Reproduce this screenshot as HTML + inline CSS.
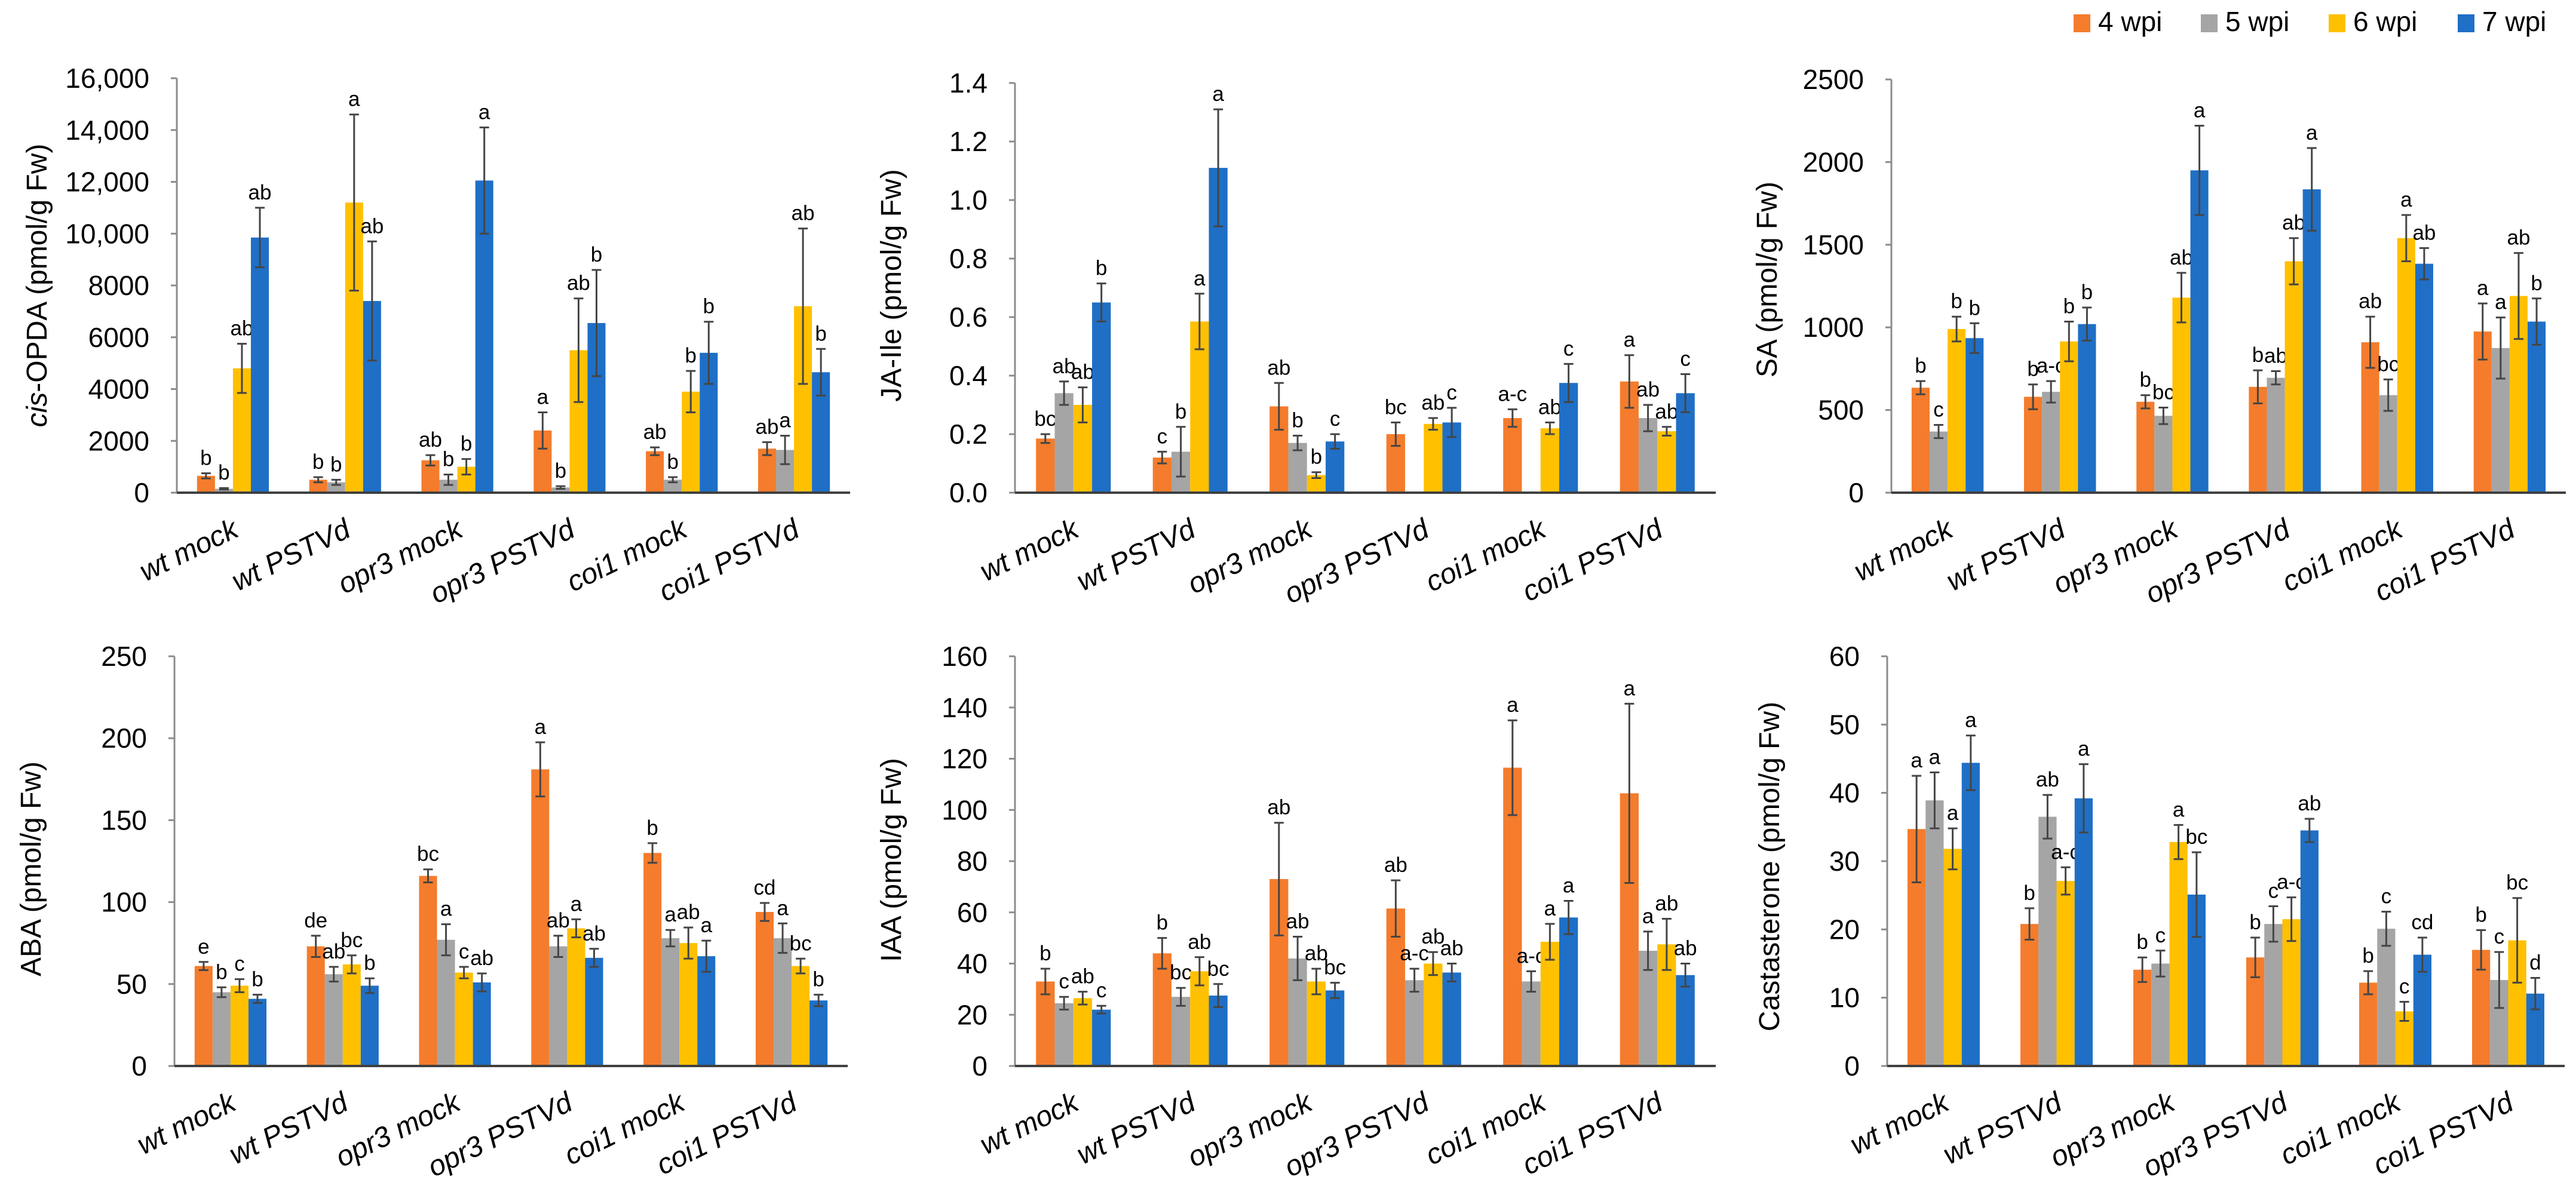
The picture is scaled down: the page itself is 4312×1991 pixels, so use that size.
<!DOCTYPE html>
<html><head><meta charset="utf-8"><style>
html,body{margin:0;padding:0;background:#fff;}
svg{display:block;font-family:"Liberation Sans",sans-serif;}
</style></head><body>
<svg id="fig" width="4312" height="1991" viewBox="0 0 4312 1991" xmlns="http://www.w3.org/2000/svg">
<g>
<rect x="3471" y="24" width="28" height="30" fill="#F47C2C"/>
<text x="3512" y="52" font-size="46">4 wpi</text>
<rect x="3684" y="24" width="28" height="30" fill="#A5A5A5"/>
<text x="3725" y="52" font-size="46">5 wpi</text>
<rect x="3898" y="24" width="28" height="30" fill="#FFC000"/>
<text x="3939" y="52" font-size="46">6 wpi</text>
<rect x="4114" y="24" width="28" height="30" fill="#1F6FC6"/>
<text x="4155" y="52" font-size="46">7 wpi</text>
</g>
</svg>
<script>
const categories = ["wt mock","wt PSTVd","opr3 mock","opr3 PSTVd","coi1 mock","coi1 PSTVd"];
const seriesNames = ["4 wpi","5 wpi","6 wpi","7 wpi"];

const opdaTicks = [0,2000,4000,6000,8000,10000,12000,14000,16000];
const opdaTickLabels = ["0","2000","4000","6000","8000","10,000","12,000","14,000","16,000"];
const opdaVals = [[650,500,1250,2400,1600,1700],[150,400,500,200,500,1650],[4800,11200,1000,5500,3900,7200],[9850,7400,12050,6550,5400,4650]];
const opdaErrs = [[100,100,200,700,150,250],[30,100,200,50,100,550],[950,3400,300,2000,800,3000],[1150,2300,2050,2050,1200,900]];
const opdaLetters = [["b","b","ab","a","ab","ab"],["b","b","b","b","b","a"],["ab","a","b","ab","b","ab"],["ab","ab","a","b","b","b"]];

const jaTicks = [0,0.2,0.4,0.6,0.8,1.0,1.2,1.4];
const jaTickLabels = ["0.0","0.2","0.4","0.6","0.8","1.0","1.2","1.4"];
const jaVals = [[0.185,0.12,0.295,0.20,0.255,0.38],[0.34,0.14,0.17,0,0,0.255],[0.30,0.585,0.06,0.235,0.22,0.21],[0.65,1.11,0.175,0.24,0.375,0.34]];
const jaErrs = [[0.015,0.02,0.08,0.04,0.03,0.09],[0.04,0.085,0.025,0,0,0.045],[0.06,0.095,0.01,0.02,0.02,0.015],[0.065,0.2,0.025,0.05,0.065,0.065]];
const jaLetters = [["bc","c","ab","bc","a-c","a"],["ab","b","b","","","ab"],["ab","a","b","ab","ab","ab"],["b","a","c","c","c","c"]];

const saTicks = [0,500,1000,1500,2000,2500];
const saTickLabels = ["0","500","1000","1500","2000","2500"];
const saVals = [[635,580,550,640,910,975],[370,610,465,695,590,875],[990,915,1180,1400,1540,1190],[935,1020,1950,1835,1385,1035]];
const saErrs = [[40,75,40,100,155,170],[40,65,50,40,95,185],[75,120,150,140,140,260],[90,100,270,250,95,140]];
const saLetters = [["b","b","b","b","ab","a"],["c","a-c","bc","ab","bc","a"],["b","b","ab","ab","a","ab"],["b","b","a","a","ab","b"]];

const abaTicks = [0,50,100,150,200,250];
const abaTickLabels = ["0","50","100","150","200","250"];
const abaVals = [[61,73,116,181,130,94],[45,56,77,73,78,78],[49,62,57,84,75,61],[41,49,51,66,67,40]];
const abaErrs = [[2.5,6.5,4,16.5,6,5.5],[3,4.5,9.5,6.5,5,9],[4,5.5,3.5,5.5,9.5,4.5],[2.5,4.5,5.5,5.5,9.5,3.5]];
const abaLetters = [["e","de","bc","a","b","cd"],["b","ab","a","ab","a","a"],["c","bc","c","a","ab","bc"],["b","b","ab","ab","a","b"]];

const iaaTicks = [0,20,40,60,80,100,120,140,160];
const iaaTickLabels = ["0","20","40","60","80","100","120","140","160"];
const iaaVals = [[33,44,73,61.5,116.5,106.5],[24.5,27,42,33.5,33,45],[26.5,37,33,40,48.5,47.5],[22,27.5,29.5,36.5,58,35.5]];
const iaaErrs = [[5,6,22,11,18.5,35],[2.5,3.5,8.5,4.5,4,7.5],[2.5,5.5,5,4.5,7,10],[1.5,4.5,3,3.5,6.5,4.5]];
const iaaLetters = [["b","b","ab","ab","a","a"],["c","bc","ab","a-c","a-c","a"],["ab","ab","ab","ab","a","ab"],["c","bc","bc","ab","a","ab"]];

const castTicks = [0,10,20,30,40,50,60];
const castTickLabels = ["0","10","20","30","40","50","60"];
const castVals = [[34.7,20.8,14.1,15.9,12.2,17],[38.9,36.5,15,20.8,20.1,12.6],[31.8,27.1,32.8,21.5,8,18.4],[44.4,39.2,25.1,34.5,16.3,10.6]];
const castErrs = [[7.8,2.3,1.8,2.9,1.7,2.9],[4.1,3.2,1.9,2.6,2.5,4.1],[3,2,2.5,3.2,1.4,6.2],[4,5,6.2,1.7,2.5,2.3]];
const castLetters = [["a","b","b","b","b","b"],["a","ab","c","c","c","c"],["a","a-c","a","a-c","c","bc"],["a","a","bc","ab","cd","d"]];

const colors = ["#F47C2C","#A5A5A5","#FFC000","#1F6FC6"];
const NS = "http://www.w3.org/2000/svg";
const svg = document.getElementById("fig");

function mk(tag, attrs, parent){
  const e = document.createElementNS(NS, tag);
  for (const k in attrs) e.setAttribute(k, attrs[k]);
  parent.appendChild(e);
  return e;
}

const panels = [
  {key:"cis-opda", title:["cis","-OPDA (pmol/g Fw)"], x0:296, x1:1423, yTop:131, y0:825, max:16000, ticks:opdaTicks, labels:opdaTickLabels, vals:opdaVals, errs:opdaErrs, letters:opdaLetters, tx:62, ty:478},
  {key:"ja-ile", title:["","JA-Ile (pmol/g Fw)"], x0:1699, x1:2872, yTop:139, y0:825, max:1.4, ticks:jaTicks, labels:jaTickLabels, vals:jaVals, errs:jaErrs, letters:jaLetters, tx:1492, ty:478},
  {key:"sa", title:["","SA (pmol/g Fw)"], x0:3166, x1:4295, yTop:133, y0:825, max:2500, ticks:saTicks, labels:saTickLabels, vals:saVals, errs:saErrs, letters:saLetters, tx:2958, ty:468},
  {key:"aba", title:["","ABA (pmol/g Fw)"], x0:292, x1:1419, yTop:1099, y0:1785, max:250, ticks:abaTicks, labels:abaTickLabels, vals:abaVals, errs:abaErrs, letters:abaLetters, tx:52, ty:1455},
  {key:"iaa", title:["","IAA (pmol/g Fw)"], x0:1699, x1:2872, yTop:1099, y0:1785, max:160, ticks:iaaTicks, labels:iaaTickLabels, vals:iaaVals, errs:iaaErrs, letters:iaaLetters, tx:1492, ty:1440},
  {key:"castasterone", title:["","Castasterone (pmol/g Fw)"], x0:3159, x1:4293, yTop:1099, y0:1785, max:60, ticks:castTicks, labels:castTickLabels, vals:castVals, errs:castErrs, letters:castLetters, tx:2962, ty:1451}
];

panels.forEach(p => {
  const g = mk("g", {}, svg);
  
  
  const yScale = v => p.y0 - (v / p.max) * (p.y0 - p.yTop);
  const gw = (p.x1 - p.x0) / categories.length;
  const bw = gw * 0.16;
  const off = (gw - 4 * bw) / 2;
  const xBar = (c, s) => p.x0 + c * gw + off + s * bw;

  const ya = mk("line", {x1:p.x0, y1:p.yTop, x2:p.x0, y2:p.y0, stroke:"#8c8c8c", "stroke-width":3}, g);
  
  
  p.ticks.forEach((t, i) => {
    const y = yScale(t);
    const tk = mk("line", {x1:p.x0 - 10, y1:y, x2:p.x0, y2:y, stroke:"#8c8c8c", "stroke-width":3}, g);
    
    
    const tl = mk("text", {x:p.x0 - 46, y:y + 16, "font-size":46, "text-anchor":"end", fill:"#000"}, g);
    tl.textContent = p.labels[i];
    
    
  });

  const tt = mk("text", {x:p.tx, y:p.ty, "font-size":48, "text-anchor":"middle", transform:`rotate(-90 ${p.tx} ${p.ty})`, "dominant-baseline":"central"}, g);
  
  
  if (p.title[0]) {
    const it = mk("tspan", {"font-style":"italic"}, tt);
    it.textContent = p.title[0];
  }
  const rest = mk("tspan", {}, tt);
  rest.textContent = p.title[1];

  for (let s = 0; s < 4; s++) {
    for (let c = 0; c < categories.length; c++) {
      const v = p.vals[s][c];
      const x = xBar(c, s);
      if (v > 0) {
        const r = mk("rect", {x:x, y:yScale(v), width:bw, height:p.y0 - yScale(v), fill:colors[s]}, g);
        
        
      }
      const e = p.errs[s][c];
      const cx = x + bw / 2;
      if (e > 0) {
        const yt = yScale(v + e), yb = yScale(Math.max(0, v - e));
        const eb = mk("path", {d:`M${cx},${yt}V${yb}M${cx-8},${yt}H${cx+8}M${cx-8},${yb}H${cx+8}`, stroke:"#454545", "stroke-width":3, fill:"none"}, g);
        
        
      }
      const lt = p.letters[s][c];
      if (lt) {
        const ly = yScale(v + e) - 14;
        const t = mk("text", {x:cx, y:ly, "font-size":35, "text-anchor":"middle"}, g);
        t.textContent = lt;
        
        
      }
    }
  }

  const xa = mk("line", {x1:p.x0, y1:p.y0, x2:p.x1, y2:p.y0, stroke:"#404040", "stroke-width":4}, g);
  
  
  categories.forEach((c, i) => {
    const ax = p.x0 + (i + 0.5) * gw + 12;
    const ay = p.y0 + 72;
    const t = mk("text", {x:ax, y:ay, "font-size":48, "font-style":"italic", "text-anchor":"end", transform:`rotate(-26 ${ax} ${ay})`}, g);
    t.textContent = c;
    
    
  });
});
</script>
</body></html>
